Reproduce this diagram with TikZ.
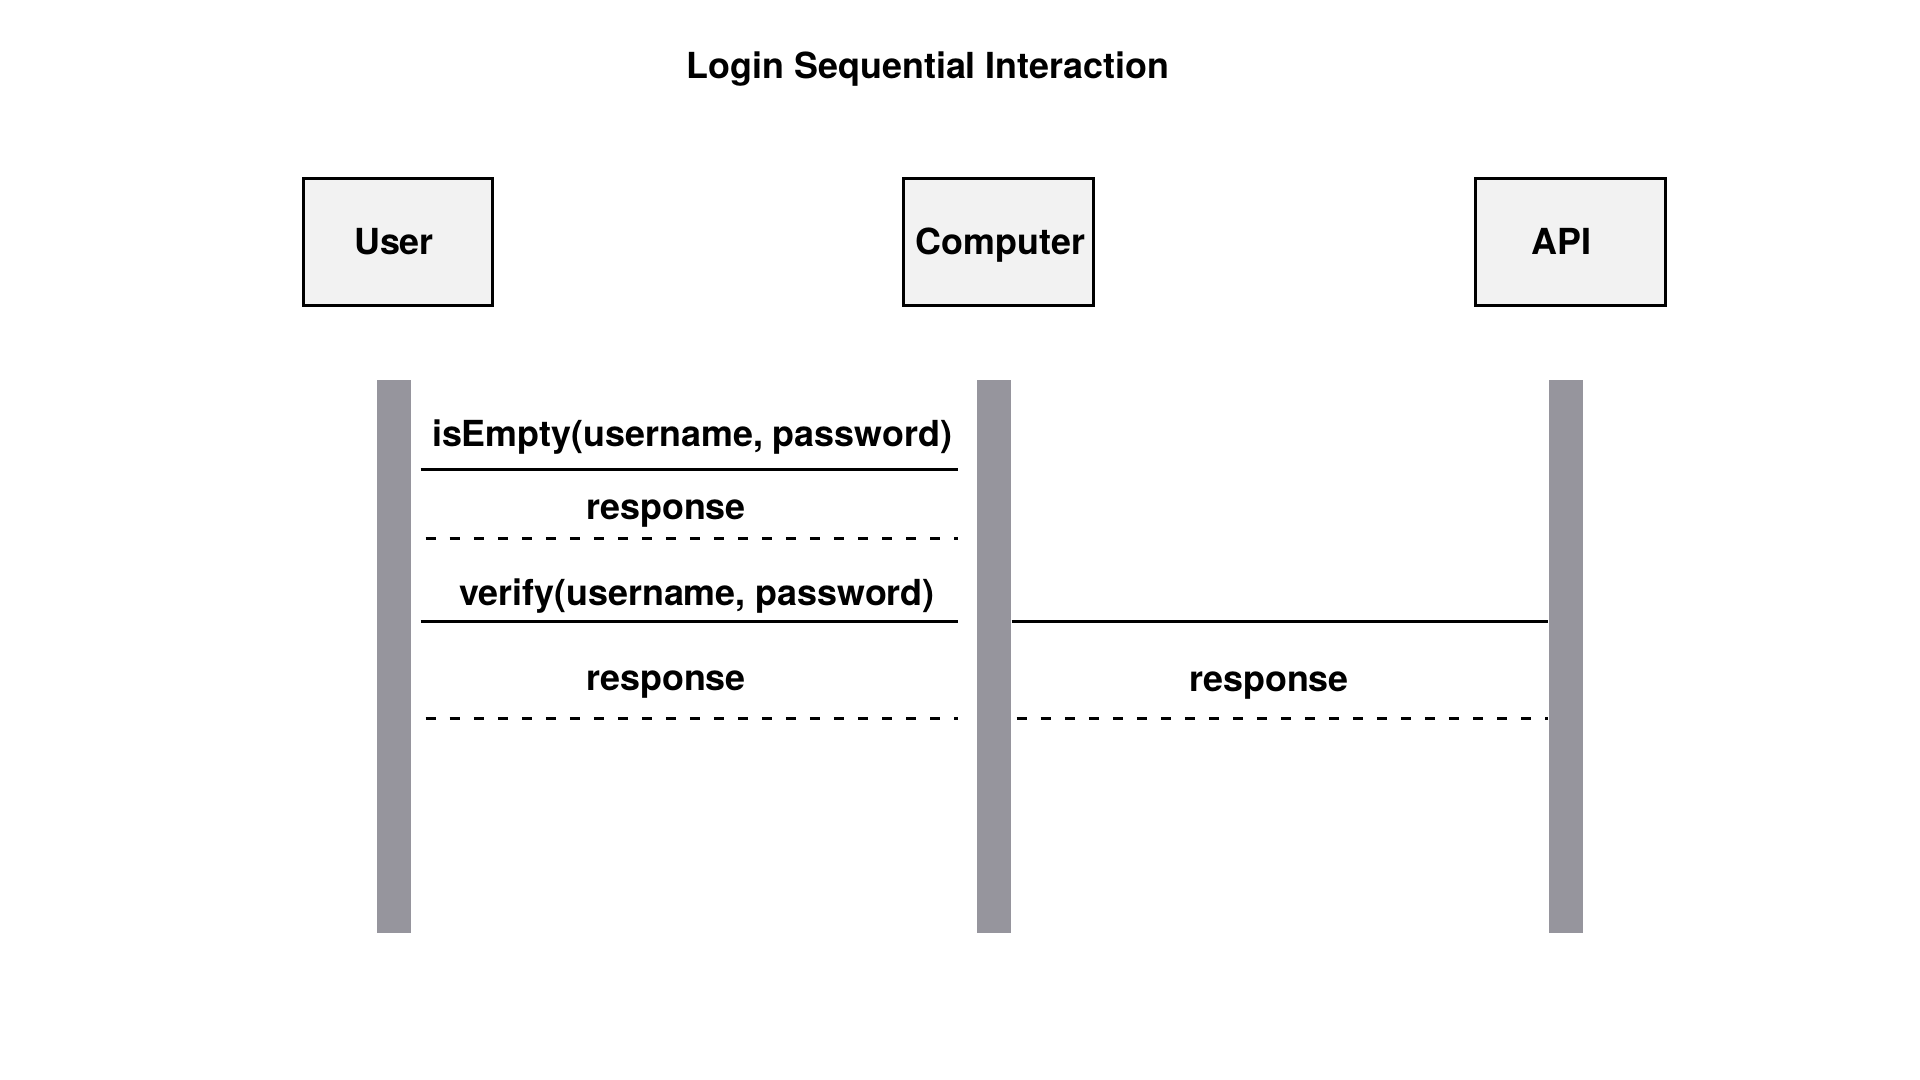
\documentclass[tikz,border=0pt]{standalone}
\usepackage{fontspec}
\setmainfont{TeX Gyre Heros}
\usetikzlibrary{positioning}
\definecolor{boxgray}{RGB}{242,242,242}
\definecolor{bargray}{RGB}{150,149,157}

\begin{document}
\begin{tikzpicture}[x=0.01cm, y=-0.01cm,
    font=\fontsize{10.2}{12}\selectfont\bfseries,
    actor/.style={draw, line width=0.85pt, fill=boxgray,
      minimum width=1.89cm, minimum height=1.27cm, inner sep=0pt},
    actorname/.style={text height=0.26cm, text depth=0cm},
    lifeline/.style={fill=bargray, minimum width=0.34cm,
      minimum height=5.53cm, inner sep=0pt},
    call/.style={line width=0.85pt},
    reply/.style={line width=0.85pt, dash pattern=on 0.1cm off 0.14cm}]
    \useasboundingbox (0,0) rectangle (1920,1080);

    % title
    \node (title) at (928,69) {Login Sequential Interaction};

    % participants
    \node[actor, label={[actorname, xshift=-0.04cm]center:User}] (user) at (398,242) {};
    \node[actor, label={[actorname, xshift=0.02cm]center:Computer}] (computer) at (998.5,242) {};
    \node[actor, label={[actorname, xshift=-0.09cm]center:API}] (api) at (1570.5,242) {};

    % lifelines
    \node[lifeline] (userbar) at (394,656.5) {};
    \node[lifeline] (compbar) at (994,656.5) {};
    \node[lifeline] (apibar) at (1566,656.5) {};

    % message rows
    \coordinate (r1) at (0,470);
    \coordinate (r2) at (0,539);
    \coordinate (r3) at (0,622);
    \coordinate (r4) at (0,719);

    \draw[call] ([xshift=0.09cm]userbar.east |- r1) -- ([xshift=-0.18cm]compbar.west |- r1);
    \node (isempty) at (692,437) {isEmpty(username, password)};

    \draw[reply] ([xshift=0.14cm]userbar.east |- r2) -- ([xshift=-0.18cm]compbar.west |- r2);
    \node (resp1) at (666,514) {response};

    \draw[call] ([xshift=0.09cm]userbar.east |- r3) -- ([xshift=-0.18cm]compbar.west |- r3);
    \draw[call] (compbar.east |- r3) -- (apibar.west |- r3);
    \node (verify) at (697,596) {verify(username, password)};

    \draw[reply] ([xshift=0.14cm]userbar.east |- r4) -- ([xshift=-0.18cm]compbar.west |- r4);
    \node (resp2) at (666,685) {response};
    \draw[reply] ([xshift=0.05cm]compbar.east |- r4) -- (apibar.west |- r4);
    \node (resp3) at (1269,686) {response};
\end{tikzpicture}
\end{document}
